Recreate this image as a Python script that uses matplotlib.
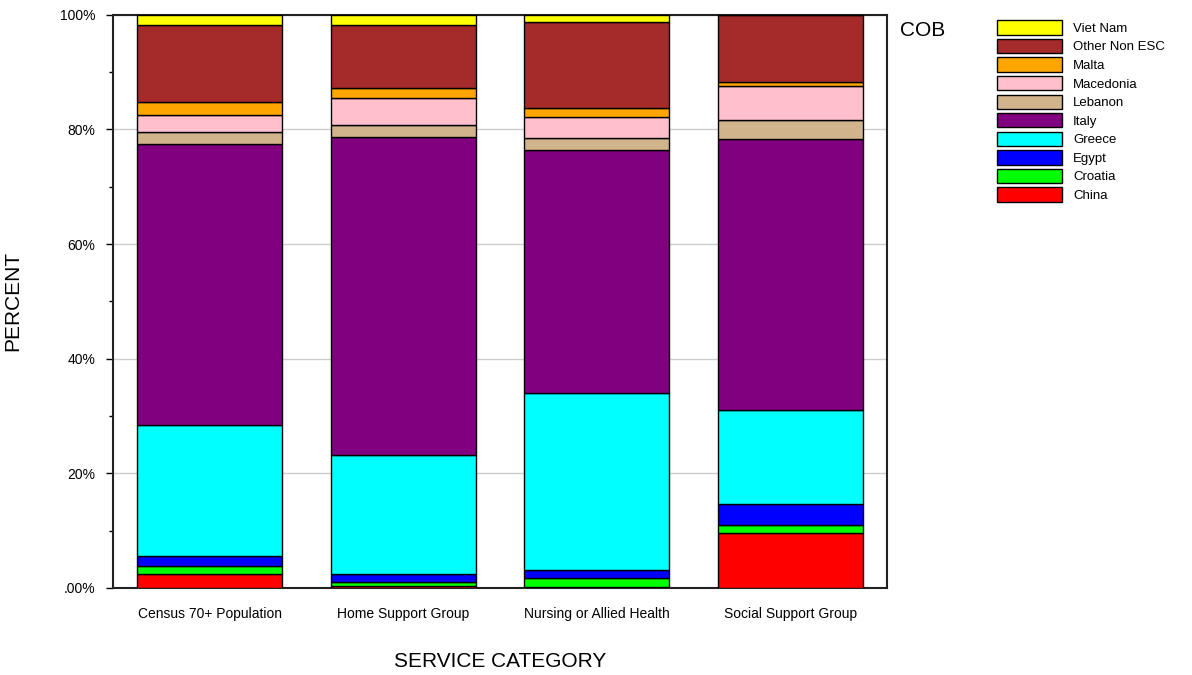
import numpy as np
import matplotlib
matplotlib.use('Agg')
import matplotlib.pyplot as plt
from matplotlib.patches import Patch

plt.rcParams['font.family'] = ['Liberation Sans', 'DejaVu Sans']

# service categories and country-of-birth shares (percent)
categories = ['Census 70+ Population', 'Home Support Group',
              'Nursing or Allied Health', 'Social Support Group']
cob = ['China', 'Croatia', 'Egypt', 'Greece', 'Italy', 'Lebanon',
       'Macedonia', 'Malta', 'Other Non ESC', 'Viet Nam']
china     = [2.4, 0.3, 0.1, 9.6]
croatia   = [1.5, 0.8, 1.65, 1.4]
egypt     = [1.75, 1.35, 1.45, 3.6]
greece    = [22.7, 20.7, 30.9, 16.4]
italy     = [49.2, 55.5, 42.4, 47.4]
lebanon   = [2.0, 2.2, 2.0, 3.2]
macedonia = [3.0, 4.6, 3.6, 5.9]
malta     = [2.3, 1.8, 1.6, 0.8]
other     = [13.4, 10.9, 15.1, 11.7]
vietnam   = [1.7, 1.9, 1.2, 0.0]
colors = ['#FF0000', '#00FF00', '#0000FF', '#00FFFF', '#800080', '#D2B48C',
          '#FFC0CB', '#FFA500', '#A52A2A', '#FFFF00']

series = [china, croatia, egypt, greece, italy, lebanon, macedonia, malta, other, vietnam]

fig = plt.figure(figsize=(11.92, 6.75), dpi=100)
ax = fig.add_axes([0.095, 0.129, 0.649, 0.849])

x = np.arange(len(categories))
bottom = np.zeros(len(categories))
for vals, c in zip(series, colors):
    v = np.array(vals)
    ax.bar(x, v, bottom=bottom, width=0.75, color=c, edgecolor='black',
           linewidth=1, zorder=3)
    bottom += v

ax.set_xlim(-0.5, 3.5)
ax.set_ylim(0, 100)
ax.set_yticks([0, 20, 40, 60, 80, 100])
ax.set_yticklabels(['.00%', '20%', '40%', '60%', '80%', '100%'], fontsize=10)
ax.set_yticks([10, 30, 50, 70, 90], minor=True)
ax.tick_params(axis='y', which='major', length=5, width=1, pad=8)
ax.tick_params(axis='y', which='minor', length=3, width=1)
ax.set_xticks(x)
ax.set_xticklabels(categories, fontsize=10)
ax.tick_params(axis='x', length=0, pad=14)
ax.grid(axis='y', color='#cccccc', linewidth=1, zorder=0)
for s in ax.spines.values():
    s.set_linewidth(1.5)
    s.set_color('#222222')

ax.set_xlabel('SERVICE CATEGORY', fontsize=15, labelpad=22)
ax.set_ylabel('PERCENT', fontsize=15)
ax.yaxis.set_label_coords(-0.118, 0.5)

fig.text(0.755, 0.955, 'COB', fontsize=15, va='center', ha='left')

handles = [Patch(facecolor=c, edgecolor='black', label=n)
           for n, c in zip(cob, colors)][::-1]
fig.legend(handles=handles, loc='upper left', bbox_to_anchor=(0.836, 0.97),
           frameon=False, fontsize=9.5, handlelength=5.0, handleheight=1.3,
           labelspacing=0.3, handletextpad=0.8, borderaxespad=0, borderpad=0)

fig.savefig('out.png', dpi=100)
